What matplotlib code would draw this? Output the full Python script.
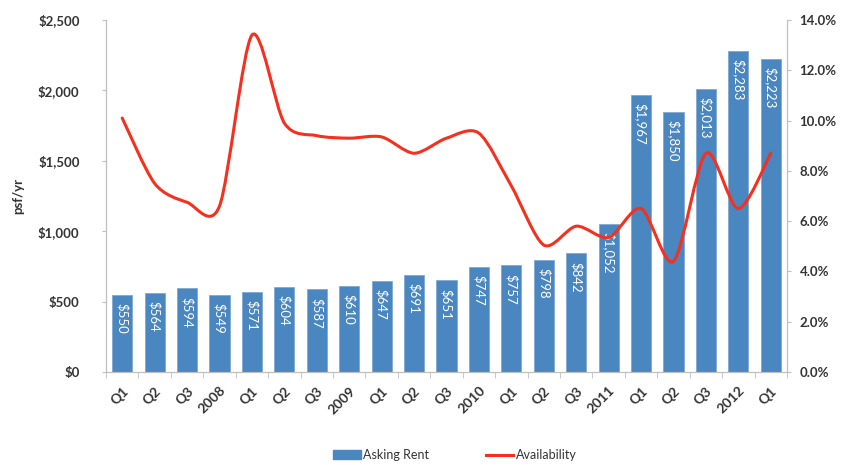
import matplotlib
matplotlib.use("Agg")
import matplotlib.pyplot as plt
from matplotlib.path import Path
from matplotlib.patches import PathPatch
from matplotlib.lines import Line2D
from matplotlib.patches import Patch
import numpy as np

categories = ["Q1", "Q2", "Q3", "2008", "Q1", "Q2", "Q3", "2009", "Q1", "Q2", "Q3",
              "2010", "Q1", "Q2", "Q3", "2011", "Q1", "Q2", "Q3", "2012", "Q1"]
asking_rent = [550, 564, 594, 549, 571, 604, 587, 610, 647, 691, 651,
               747, 757, 798, 842, 1052, 1967, 1850, 2013, 2283, 2223]
availability = [10.1, 7.5, 6.75, 6.6, 13.4, 9.9, 9.4, 9.3, 9.35, 8.7, 9.3,
                9.5, 7.4, 5.05, 5.8, 5.35, 6.5, 4.4, 8.7, 6.5, 8.7]
left_ticks = [0, 500, 1000, 1500, 2000, 2500]
right_ticks = [0, 2, 4, 6, 8, 10, 12, 14]

BAR = "#4A86C0"
RED = "#F5301E"
TXT = "#333333"
SPINE = "#BFBFBF"
FONT = "Lato"

fig = plt.figure(figsize=(8.43, 4.65), dpi=100)
ax = fig.add_axes([106/843, 1-372/465, (787-106)/843, (372-20)/465])
ax2 = ax.twinx()

x = np.arange(len(categories))
ax.bar(x, asking_rent, width=0.62, color=BAR, edgecolor="#7FA9D3", linewidth=0.6, zorder=2)
ax.set_xlim(-0.5, len(categories)-0.5)
ax.set_ylim(0, 2500)
ax2.set_ylim(0, 14)

for xi, v in zip(x, asking_rent):
    ax.annotate(f"${v:,}", (xi, v), xytext=(0, -6), textcoords="offset points",
                rotation=270, ha="center", va="top", color="white",
                fontsize=9.5, family=FONT)

# smooth line (Catmull-Rom to Bezier) through data points
pts = np.column_stack([x, availability]).astype(float)
n = len(pts)
verts = [tuple(pts[0])]
codes = [Path.MOVETO]
k = 0.85 / 6
for i in range(n-1):
    p0 = pts[i-1] if i > 0 else pts[i]
    p1 = pts[i]
    p2 = pts[i+1]
    p3 = pts[i+2] if i+2 < n else pts[i+1]
    c1 = p1 + (p2 - p0)*k
    c2 = p2 - (p3 - p1)*k
    verts += [tuple(c1), tuple(c2), tuple(p2)]
    codes += [Path.CURVE4]*3
ax2.add_patch(PathPatch(Path(verts, codes), facecolor="none", edgecolor=RED,
                        linewidth=2.2, zorder=3, capstyle="round"))

ax.set_yticks(left_ticks)
ax.set_yticklabels([f"${t:,}" for t in left_ticks])
ax2.set_yticks(right_ticks)
ax2.set_yticklabels([f"{t:.1f}%" for t in right_ticks])
ax.set_xticks(x)
ax.set_xticklabels(categories, rotation=45, ha="right", rotation_mode="anchor")
ax.set_xticks(np.arange(-0.5, len(categories)), minor=True)
ax.tick_params(axis="x", which="major", length=0, pad=9)
ax.tick_params(axis="x", which="minor", length=4, color=SPINE)
ax.tick_params(axis="y", length=3, color=SPINE, pad=16)
ax2.tick_params(axis="y", length=3, color=SPINE, pad=6)

for a in (ax, ax2):
    for lab in a.get_xticklabels() + a.get_yticklabels():
        lab.set_family(FONT)
        lab.set_fontweight("bold")
        lab.set_fontsize(9.5)
        lab.set_color(TXT)
    a.spines["top"].set_visible(False)
    for s in ("left", "right", "bottom"):
        a.spines[s].set_color(SPINE)
for lab in ax.get_xticklabels():
    lab.set_fontsize(10)

ax.set_ylabel("psf/yr", family=FONT, fontsize=9.5, fontweight="bold", color=TXT, labelpad=10)

handles = [Patch(facecolor=BAR, edgecolor=BAR, label="Asking Rent"),
           Line2D([0], [0], color=RED, lw=2.2, label="Availability")]
leg = fig.legend(handles=handles, loc="center", bbox_to_anchor=(455/843, 1-455/465),
                 ncol=2, frameon=False, columnspacing=4.5, handlelength=2.2,
                 handletextpad=0.2, prop={"family": FONT, "size": 9})
for t in leg.get_texts():
    t.set_color(TXT)

fig.savefig("out.png", dpi=100)
